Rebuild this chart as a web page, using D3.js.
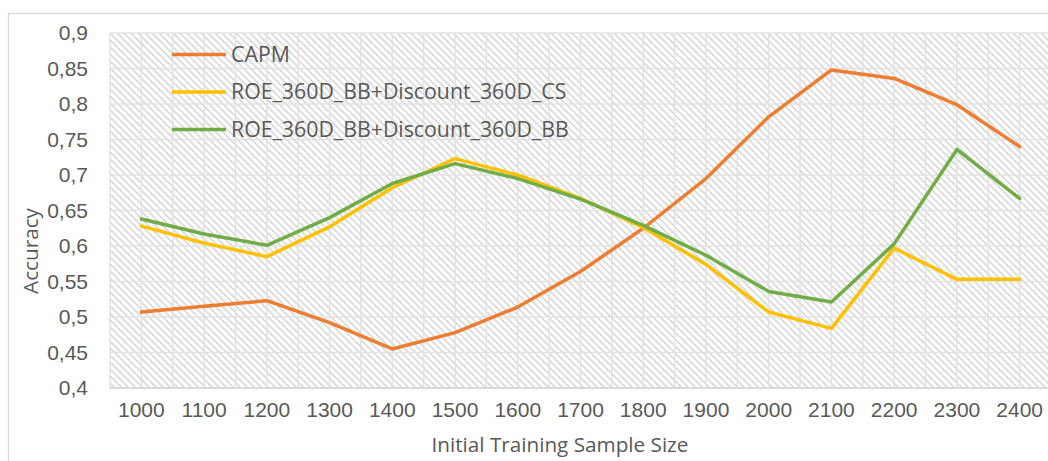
<!DOCTYPE html>
<html>
<head>
<meta charset="utf-8">
<script src="https://cdn.jsdelivr.net/npm/d3@7"></script>
<style>
  html, body { margin: 0; padding: 0; background: #fff; }
  svg { display: block; font-family: "Open Sans", "Noto Sans", sans-serif; }
</style>
</head>
<body>
<svg id="chart" width="1048" height="461"></svg>
<script>
// Sample sizes on the category axis
const categories = [1000, 1100, 1200, 1300, 1400, 1500, 1600, 1700, 1800, 1900, 2000, 2100, 2200, 2300, 2400];

// Accuracy per model
const capm = [0.507, 0.515, 0.523, 0.492, 0.455, 0.478, 0.514, 0.564, 0.625, 0.695, 0.782, 0.848, 0.836, 0.799, 0.740];
const roeCS = [0.628, 0.604, 0.585, 0.627, 0.682, 0.723, 0.700, 0.667, 0.626, 0.574, 0.507, 0.484, 0.597, 0.553, 0.553];
const roeBB = [0.638, 0.617, 0.601, 0.640, 0.688, 0.716, 0.695, 0.666, 0.629, 0.587, 0.536, 0.521, 0.603, 0.736, 0.667];

const seriesNames = ["CAPM", "ROE_360D_BB+Discount_360D_CS", "ROE_360D_BB+Discount_360D_BB"];
const seriesColors = ["#ED7D31", "#FFC000", "#70AD47"];

// Value axis
const yTicks = [0.4, 0.45, 0.5, 0.55, 0.6, 0.65, 0.7, 0.75, 0.8, 0.85, 0.9];
const yMin = 0.4, yMax = 0.9;

const xTitle = "Initial Training Sample Size";
const yTitle = "Accuracy";

const svg = d3.select("#chart");
const plot = { left: 110, top: 33, right: 1051, bottom: 388 };

const x = d3.scaleBand().domain(categories).range([plot.left, plot.right]).paddingInner(0).paddingOuter(0);
const y = d3.scaleLinear().domain([yMin, yMax]).range([plot.bottom, plot.top]);
const cx = d => x(d) + x.bandwidth() / 2;

// Diagonal hatch fill for the plot area
const defs = svg.append("defs");
const pat = defs.append("pattern")
  .attr("id", "hatch")
  .attr("patternUnits", "userSpaceOnUse")
  .attr("width", 7).attr("height", 7);
pat.append("rect").attr("width", 7).attr("height", 7).attr("fill", "#ffffff");
pat.append("path")
  .attr("d", "M-1,-1 L8,8 M-1,6 L1,8 M6,-1 L8,1")
  .attr("stroke", "#dcdcdc")
  .attr("stroke-width", 1.9);

// Chart border
svg.append("rect")
  .attr("x", 8.5).attr("y", 13.5)
  .attr("width", 1100).attr("height", 500)
  .attr("fill", "#fff")
  .attr("stroke", "#d9d9d9")
  .attr("stroke-width", 1.3);

svg.append("rect")
  .attr("x", plot.left).attr("y", plot.top)
  .attr("width", plot.right - plot.left).attr("height", plot.bottom - plot.top)
  .attr("fill", "url(#hatch)");

// Gridlines: horizontal at each value tick, vertical at category edges and centres
const grid = svg.append("g").attr("stroke", "#e3e3e3").attr("stroke-width", 1.6);
grid.selectAll("line.h").data(yTicks).join("line")
  .attr("x1", plot.left).attr("x2", plot.right)
  .attr("y1", d => y(d)).attr("y2", d => y(d));
const vLines = [];
categories.forEach(c => { vLines.push(x(c)); vLines.push(cx(c)); });
vLines.push(x(categories[categories.length - 1]) + x.bandwidth());
grid.selectAll("line.v").data(vLines).join("line")
  .attr("x1", d => d).attr("x2", d => d)
  .attr("y1", plot.top).attr("y2", plot.bottom);

// Category axis baseline
svg.append("line")
  .attr("x1", plot.left).attr("x2", plot.right)
  .attr("y1", plot.bottom).attr("y2", plot.bottom)
  .attr("stroke", "#d9d9d9").attr("stroke-width", 2);

// Axes
const fmt = v => d3.format("")(+v.toFixed(2)).replace(".", ",");
const yAxis = svg.append("g")
  .attr("transform", `translate(${plot.left},0)`)
  .call(d3.axisLeft(y).tickValues(yTicks).tickFormat(fmt).tickSize(0).tickPadding(22));
const xAxis = svg.append("g")
  .attr("transform", `translate(0,${plot.bottom})`)
  .call(d3.axisBottom(x).tickSize(0).tickPadding(14));
[yAxis, xAxis].forEach(g => {
  g.select(".domain").remove();
  g.selectAll("text").attr("fill", "#595959").style("font-size", "21px").attr("font-family", null);
});

// Axis titles
svg.append("text")
  .attr("x", 560).attr("y", 452)
  .attr("text-anchor", "middle")
  .attr("fill", "#595959").style("font-size", "20.7px")
  .text(xTitle);
svg.append("text")
  .attr("transform", "translate(38,251) rotate(-90)")
  .attr("text-anchor", "middle")
  .attr("fill", "#595959").style("font-size", "20.7px")
  .text(yTitle);

// Series lines
const series = [capm, roeCS, roeBB];
const line = d3.line().x((d, i) => cx(categories[i])).y(d => y(d));
svg.append("g").selectAll("path").data(series).join("path")
  .attr("d", d => line(d))
  .attr("fill", "none")
  .attr("stroke", (d, i) => seriesColors[i])
  .attr("stroke-width", 3.5)
  .attr("stroke-linejoin", "round")
  .attr("stroke-linecap", "round");

// Legend
const legend = svg.append("g").selectAll("g").data(seriesNames).join("g")
  .attr("transform", (d, i) => `translate(172,${54.5 + i * 37.5})`);
legend.append("line")
  .attr("x1", 0).attr("x2", 54)
  .attr("stroke", (d, i) => seriesColors[i])
  .attr("stroke-width", 3.5);
legend.append("text")
  .attr("x", 59).attr("y", 0).attr("dy", "0.35em")
  .attr("fill", "#595959").style("font-size", "21.3px")
  .text(d => d);
</script>
</body>
</html>
